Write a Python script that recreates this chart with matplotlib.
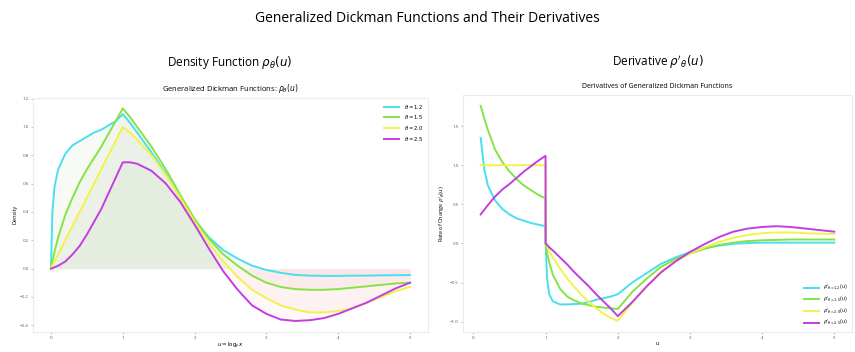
import matplotlib
matplotlib.use('Agg')
import matplotlib.pyplot as plt

plt.rcParams['font.family'] = ['Open Sans', 'DejaVu Sans']
plt.rcParams['mathtext.fontset'] = 'dejavusans'

# Density functions rho_theta(u)
u = [0.0, 0.02, 0.05, 0.1, 0.2, 0.3, 0.4, 0.5, 0.6, 0.7, 0.8, 0.9, 1.0,
     1.1, 1.2, 1.4, 1.6, 1.8, 2.0, 2.2, 2.4, 2.6, 2.8, 3.0, 3.2, 3.4,
     3.6, 3.8, 4.0, 4.2, 4.4, 4.6, 4.8, 5.0]
rho_12 = [0.0, 0.40, 0.58, 0.70, 0.81, 0.87, 0.90, 0.93, 0.96, 0.98, 1.01, 1.04, 1.09,
          1.03, 0.96, 0.82, 0.67, 0.50, 0.34, 0.22, 0.13, 0.07, 0.02, -0.01, -0.03, -0.045,
          -0.05, -0.052, -0.052, -0.05, -0.05, -0.048, -0.047, -0.046]
rho_15 = [0.0, 0.05, 0.12, 0.22, 0.38, 0.50, 0.61, 0.70, 0.78, 0.86, 0.95, 1.04, 1.13,
          1.07, 1.00, 0.86, 0.70, 0.52, 0.35, 0.21, 0.10, 0.02, -0.05, -0.10, -0.13, -0.145,
          -0.15, -0.15, -0.145, -0.135, -0.125, -0.115, -0.105, -0.10]
rho_20 = [0.0, 0.02, 0.05, 0.10, 0.20, 0.30, 0.40, 0.50, 0.60, 0.70, 0.80, 0.90, 1.00,
          0.96, 0.91, 0.80, 0.66, 0.50, 0.33, 0.18, 0.05, -0.06, -0.15, -0.21, -0.26, -0.29,
          -0.31, -0.31, -0.30, -0.28, -0.24, -0.20, -0.16, -0.13]
rho_25 = [0.0, 0.002, 0.01, 0.02, 0.05, 0.10, 0.16, 0.24, 0.33, 0.42, 0.53, 0.64, 0.75,
          0.75, 0.74, 0.69, 0.60, 0.47, 0.31, 0.14, -0.02, -0.15, -0.26, -0.32, -0.36, -0.37,
          -0.365, -0.35, -0.32, -0.28, -0.24, -0.19, -0.14, -0.10]

# Derivatives rho'_theta(u)
ud = [0.1, 0.15, 0.2, 0.3, 0.4, 0.5, 0.6, 0.7, 0.8, 0.9, 0.999,
      1.0, 1.02, 1.05, 1.1, 1.2, 1.3, 1.4, 1.5, 1.6, 1.7, 1.8, 1.9, 2.0,
      2.2, 2.4, 2.6, 2.8, 3.0, 3.2, 3.4, 3.6, 3.8, 4.0, 4.2, 4.4, 4.6, 4.8, 5.0]
drho_12 = [1.35, 0.95, 0.74, 0.55, 0.44, 0.37, 0.32, 0.29, 0.26, 0.24, 0.22,
           0.0, -0.45, -0.65, -0.74, -0.78, -0.78, -0.775, -0.77, -0.75, -0.72, -0.70, -0.68, -0.65,
           -0.50, -0.38, -0.26, -0.18, -0.11, -0.06, -0.03, -0.005, 0.005, 0.01, 0.01, 0.01, 0.01, 0.01, 0.01]
drho_15 = [1.76, 1.60, 1.45, 1.20, 1.04, 0.92, 0.82, 0.74, 0.68, 0.62, 0.575,
           0.0, -0.12, -0.24, -0.40, -0.58, -0.68, -0.73, -0.77, -0.79, -0.81, -0.82, -0.83, -0.84,
           -0.62, -0.45, -0.30, -0.20, -0.13, -0.07, -0.02, 0.01, 0.03, 0.04, 0.045, 0.05, 0.05, 0.05, 0.05]
drho_20 = [1.0, 1.0, 1.0, 1.0, 1.0, 1.0, 1.0, 1.0, 1.0, 1.0, 1.0,
           0.0, -0.04, -0.10, -0.18, -0.32, -0.45, -0.56, -0.66, -0.75, -0.83, -0.90, -0.95, -0.99,
           -0.76, -0.55, -0.36, -0.23, -0.13, -0.05, 0.02, 0.07, 0.11, 0.13, 0.14, 0.14, 0.13, 0.125, 0.12]
drho_25 = [0.37, 0.43, 0.49, 0.60, 0.69, 0.76, 0.84, 0.92, 0.99, 1.06, 1.12,
           0.0, -0.02, -0.05, -0.09, -0.18, -0.27, -0.37, -0.46, -0.55, -0.65, -0.74, -0.83, -0.93,
           -0.75, -0.55, -0.37, -0.23, -0.11, -0.01, 0.08, 0.15, 0.19, 0.21, 0.22, 0.21, 0.19, 0.17, 0.15]

thetas = ['1.2', '1.5', '2.0', '2.5']
colors = ['#48dff0', '#86e346', '#f3f24a', '#c23ee0']

fig = plt.figure(figsize=(8.55, 3.52), dpi=100)
fig.text(0.5, 0.948, 'Generalized Dickman Functions and Their Derivatives',
         ha='center', va='center', fontsize=10)
fig.text(0.268, 0.823, r'Density Function $\rho_\theta(u)$', ha='center', va='center', fontsize=8.5)
fig.text(0.770, 0.823, r"Derivative $\rho'_\theta(u)$", ha='center', va='center', fontsize=8.5)

ax1 = fig.add_axes([0.0386, 0.058, 0.462, 0.664])
ax2 = fig.add_axes([0.5415, 0.058, 0.455, 0.672])

for ax in (ax1, ax2):
    for s in ax.spines.values():
        s.set_color('#ececec')
        s.set_linewidth(0.8)
    ax.tick_params(labelsize=3.2, colors='#888888', length=1.5, width=0.4,
                   labelcolor='#555555', pad=1.5)

# left panel
for th, y, c in zip(thetas, [rho_12, rho_15, rho_20, rho_25], colors):
    ax1.plot(u, y, color=c, lw=1.4, label=r'$\theta = %s$' % th)
    ax1.fill_between(u, 0, y, where=[v >= 0 for v in y], interpolate=True,
                     color='#9cbf8c', alpha=0.07, lw=0)
    ax1.fill_between(u, 0, y, where=[v < 0 for v in y], interpolate=True,
                     color='#f09090', alpha=0.06, lw=0)
ax1.set_yticks([-0.4, -0.2, 0.0, 0.2, 0.4, 0.6, 0.8, 1.0, 1.2])
ax1.set_xticks([0, 1, 2, 3, 4, 5])
ax1.set_title(r'Generalized Dickman Functions: $\rho_\theta(u)$', fontsize=5.5, pad=5)
ax1.set_xlabel(r'$u = \log_y x$', fontsize=4, labelpad=0.5)
ax1.set_ylabel('Density', fontsize=4, labelpad=2)
ax1.legend(fontsize=3.8, loc='upper right', frameon=False, handlelength=3)

# right panel
for th, y, c in zip(thetas, [drho_12, drho_15, drho_20, drho_25], colors):
    ax2.plot(ud, y, color=c, lw=1.4, label=r"$\rho'_{\theta=%s}(u)$" % th)
ax2.set_yticks([-1.0, -0.5, 0.0, 0.5, 1.0, 1.5])
ax2.set_xticks([0, 1, 2, 3, 4, 5])
ax2.set_title('Derivatives of Generalized Dickman Functions', fontsize=5, pad=5)
ax2.set_xlabel(r'$u$', fontsize=4, labelpad=0.5)
ax2.set_ylabel(r"Rate of Change $\rho'_\theta(u)$", fontsize=4, labelpad=2)
ax2.legend(fontsize=3.5, loc='lower right', frameon=False, handlelength=3)

fig.savefig('out.png', dpi=100)
